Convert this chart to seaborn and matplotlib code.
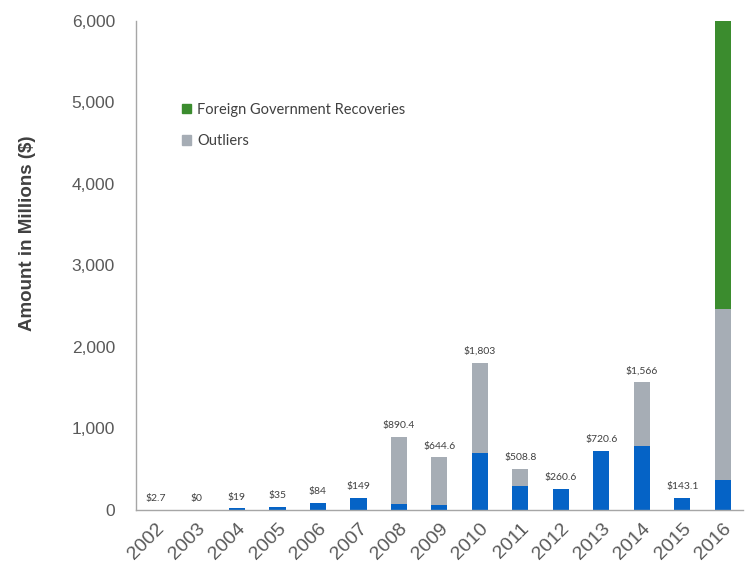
import numpy as np
import pandas as pd
import matplotlib
matplotlib.use("Agg")
import matplotlib.pyplot as plt
import seaborn as sns
from matplotlib.patches import Patch
from matplotlib.ticker import FuncFormatter, FixedLocator

# data (millions $)
years = [str(y) for y in range(2002, 2017)]
base = [2.7, 0, 19, 35, 80, 145, 74, 65, 700, 290, 260.6, 720.6, 785, 143.1, 372]
outliers = [0, 0, 0, 0, 0, 0, 816.4, 579.6, 1103, 218.8, 0, 0, 781, 0, 2094]
foreign = [0, 0, 0, 0, 4, 4, 0, 0, 0, 0, 0, 0, 0, 0, 3567]
labels = ["$2.7", "$0", "$19", "$35", "$84", "$149", "$890.4", "$644.6", "$1,803",
          "$508.8", "$260.6", "$720.6", "$1,566", "$143.1", "$6,033"]

blue = "#0563C6"
grey = "#A6ADB5"
green = "#3B8C2E"

df = pd.DataFrame({"year": years, "base": base, "outliers": outliers, "foreign": foreign})
df["lvl2"] = df["base"] + df["outliers"]
df["lvl3"] = df["lvl2"] + df["foreign"]

sns.set_style("white")
plt.rcParams["font.family"] = ["Liberation Sans", "DejaVu Sans"]

fig = plt.figure(figsize=(7.46, 5.69), dpi=100)
ax = fig.add_axes([0.182, 0.1037, 0.814, 0.8594])

# stacked bars: draw cumulative heights back to front
for col, c in [("lvl3", green), ("lvl2", grey), ("base", blue)]:
    sns.barplot(data=df, x="year", y=col, color=c, width=0.4, saturation=1,
                order=years, ax=ax, linewidth=0)

ax.set_ylim(0, 6000)
ax.set_xlim(-0.5, len(years) - 0.5)
ax.yaxis.set_major_formatter(FuncFormatter(lambda v, p: f"{int(v):,}"))
ax.set_yticks(range(0, 6001, 1000))
ax.tick_params(axis="y", length=0, labelsize=12.5, labelcolor="#595959", pad=15)

# category labels, ticks between categories
ax.tick_params(axis="x", which="major", length=0, labelsize=14, labelcolor="#595959", pad=7)
plt.setp(ax.get_xticklabels(), rotation=45, ha="right", rotation_mode="anchor")
ax.xaxis.set_minor_locator(FixedLocator(np.arange(-0.5, len(years), 1)))
ax.tick_params(axis="x", which="minor", length=6, color="#A6A6A6", width=1, direction="out")

for s in ["top", "right"]:
    ax.spines[s].set_visible(False)
for s in ["left", "bottom"]:
    ax.spines[s].set_color("#A6A6A6")
    ax.spines[s].set_linewidth(1)

ax.set_xlabel("")
ax.set_ylabel("Amount in Millions ($)", fontsize=13.5, fontweight="bold", color="#404040")
ax.yaxis.set_label_coords(-0.165, 0.565)

# value labels
for i, (tot, lab) in enumerate(zip(df["lvl3"], labels)):
    ax.annotate(lab, (i, tot), xytext=(0, 5), textcoords="offset points",
                ha="center", va="bottom", fontsize=7.5, color="#404040", family=["Lato", "DejaVu Sans"])

handles = [Patch(color=green, label="Foreign Government Recoveries"),
           Patch(color=grey, label="Outliers")]
ax.legend(handles=handles, loc="upper left", bbox_to_anchor=(0.055, 0.86), frameon=False,
          handlelength=0.6, handleheight=0.6, handletextpad=0.4, labelspacing=1.2,
          prop={"family": "Lato", "size": 10.5}, labelcolor="#404040")

fig.savefig("out.png", dpi=100)
